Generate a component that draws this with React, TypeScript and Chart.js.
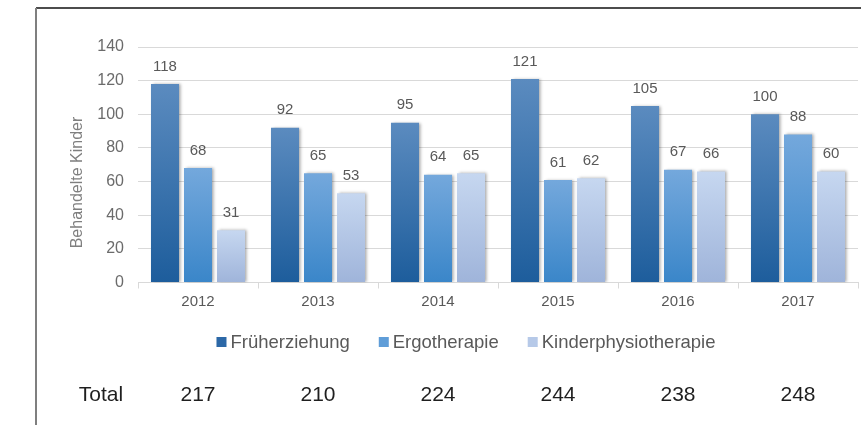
import React, { useEffect, useRef } from "react";
import { Chart, registerables } from "chart.js";

Chart.register(...registerables);

// ---- Data ----
const years = ["2012", "2013", "2014", "2015", "2016", "2017"];
const seriesNames = ["Früherziehung", "Ergotherapie", "Kinderphysiotherapie"];
const fruehValues = [118, 92, 95, 121, 105, 100];
const ergoValues = [68, 65, 64, 61, 67, 88];
// bar heights as drawn in the picture (2017 bar is drawn at ~66 though labelled 60)
const kinderValues = [31, 53, 65, 62, 66, 66];
const fruehLabels = ["118", "92", "95", "121", "105", "100"];
const ergoLabels = ["68", "65", "64", "61", "67", "88"];
const kinderLabels = ["31", "53", "65", "62", "66", "60"];
const totals = ["217", "210", "224", "244", "238", "248"];
const yMin = 0;
const yMax = 140;
const yStep = 20;
const yTitle = "Behandelte Kinder";
const totalTitle = "Total";

// ---- Styles ----
const gradTops = ["#5b8bbf", "#74a8dc", "#c6d7f0"];
const gradBottoms = ["#1d5d9c", "#3a86c9", "#9fb4da"];
const legendColors = ["#2c68a7", "#5f9dd8", "#b6c9e8"];
const FONT = "Arial, 'Liberation Sans', sans-serif";

const gradient = (i: number) => (c: any) => {
  const chart = c.chart;
  const area = chart.chartArea;
  if (!area || c.type !== "data" || !chart.scales.y) return legendColors[i];
  const y = chart.scales.y.getPixelForValue(c.raw);
  const g = chart.ctx.createLinearGradient(0, y, 0, area.bottom);
  g.addColorStop(0, gradTops[i]);
  g.addColorStop(1, gradBottoms[i]);
  return g;
};

const seriesValues = [fruehValues, ergoValues, kinderValues];
const seriesLabels = [fruehLabels, ergoLabels, kinderLabels];

export default function App() {
  const ref = useRef<HTMLCanvasElement | null>(null);

  useEffect(() => {
    if (!ref.current) return;

    const framePlugin = {
      id: "frame",
      beforeDraw(chart: any) {
        const ctx = chart.ctx;
        ctx.save();
        ctx.fillStyle = "#ffffff";
        ctx.fillRect(0, 0, chart.width, chart.height);
        ctx.restore();
      },
      afterDraw(chart: any) {
        const ctx = chart.ctx;
        ctx.save();
        ctx.strokeStyle = "#111111";
        ctx.lineWidth = 1.5;
        ctx.beginPath();
        ctx.moveTo(36, 8);
        ctx.lineTo(chart.width, 8);
        ctx.stroke();
        ctx.strokeStyle = "#7f7f7f";
        ctx.lineWidth = 2;
        ctx.beginPath();
        ctx.moveTo(36, 8);
        ctx.lineTo(36, chart.height);
        ctx.stroke();
        ctx.restore();
      },
    };

    const shadowPlugin = {
      id: "barShadow",
      beforeDatasetsDraw(chart: any) {
        const ctx = chart.ctx;
        ctx.save();
        ctx.shadowColor = "rgba(0,0,0,0.35)";
        ctx.shadowBlur = 3;
        ctx.shadowOffsetX = 2;
        ctx.shadowOffsetY = 0;
      },
      afterDatasetsDraw(chart: any) {
        chart.ctx.restore();
      },
    };

    const labelsPlugin = {
      id: "valueLabels",
      afterDatasetsDraw(chart: any) {
        const ctx = chart.ctx;
        ctx.save();
        ctx.font = `15px ${FONT}`;
        ctx.fillStyle = "#595959";
        ctx.textAlign = "center";
        ctx.textBaseline = "middle";
        chart.data.datasets.forEach((ds: any, di: number) => {
          const meta = chart.getDatasetMeta(di);
          meta.data.forEach((el: any, i: number) => {
            ctx.fillText(seriesLabels[di][i], el.x, el.y - 17.5);
          });
        });
        ctx.restore();
      },
    };

    const extrasPlugin = {
      id: "extras",
      afterDraw(chart: any) {
        const ctx = chart.ctx;
        ctx.save();
        // y-axis title
        ctx.font = `16px ${FONT}`;
        ctx.fillStyle = "#7f7f7f";
        ctx.textAlign = "center";
        ctx.textBaseline = "middle";
        ctx.translate(78, 182.5);
        ctx.rotate(-Math.PI / 2);
        ctx.fillText(yTitle, 0, 0);
        ctx.restore();

        // legend
        ctx.save();
        ctx.font = `18.5px ${FONT}`;
        ctx.textBaseline = "middle";
        ctx.textAlign = "left";
        const box = 10;
        const boxGap = 4;
        const itemGap = 29;
        const widths = seriesNames.map((n) => ctx.measureText(n).width);
        const total =
          widths.reduce((a, w) => a + w + box + boxGap, 0) +
          itemGap * (seriesNames.length - 1);
        let x = 466 - total / 2;
        const ly = 342;
        seriesNames.forEach((n, i) => {
          ctx.fillStyle = legendColors[i];
          ctx.fillRect(x, ly - box / 2, box, box);
          ctx.fillStyle = "#595959";
          ctx.fillText(n, x + box + boxGap, ly + 1);
          x += box + boxGap + widths[i] + itemGap;
        });
        ctx.restore();

        // totals row
        ctx.save();
        ctx.font = `21px ${FONT}`;
        ctx.fillStyle = "#1f1f1f";
        ctx.textAlign = "center";
        ctx.textBaseline = "middle";
        const ty = 395;
        ctx.fillText(totalTitle, 101, ty);
        const xs = chart.scales.x;
        totals.forEach((t, i) => {
          ctx.fillText(t, xs.getPixelForValue(i), ty);
        });
        ctx.restore();
      },
    };

    const chart = new Chart(ref.current, {
      type: "bar",
      data: {
        labels: years,
        datasets: seriesNames.map((name, i) => ({
          label: name,
          data: seriesValues[i],
          backgroundColor: gradient(i),
          borderWidth: 0,
          categoryPercentage: 0.825,
          barPercentage: 0.85,
        })),
      },
      options: {
        responsive: false,
        animation: false,
        devicePixelRatio: 1,
        layout: { padding: { left: 0, right: 3, top: 47, bottom: 100 } },
        plugins: {
          legend: { display: false },
          tooltip: { enabled: false },
          title: { display: false },
        },
        scales: {
          x: {
            offset: true,
            grid: {
              display: true,
              drawOnChartArea: false,
              drawTicks: true,
              tickLength: 6,
              color: "#d9d9d9",
            },
            border: { display: true, color: "#d9d9d9" },
            ticks: {
              color: "#595959",
              font: { size: 15, family: FONT },
              padding: 4,
            },
            afterFit: (s: any) => {
              s.height = 42.5;
            },
          },
          y: {
            min: yMin,
            max: yMax,
            ticks: {
              stepSize: yStep,
              color: "#6b6b6b",
              font: { size: 16, family: FONT },
              padding: 14,
            },
            grid: { color: "#d9d9d9", drawTicks: false },
            border: { display: false },
            afterFit: (s: any) => {
              s.width = 138;
            },
          },
        },
      },
      plugins: [framePlugin, shadowPlugin, labelsPlugin, extrasPlugin],
    } as any);

    return () => chart.destroy();
  }, []);

  return (
    <div
      style={{
        position: "fixed",
        left: 0,
        top: 0,
        width: 861,
        height: 425,
        background: "#fff",
      }}
    >
      <canvas ref={ref} width={861} height={425} style={{ width: 861, height: 425, display: "block" }} />
    </div>
  );
}
